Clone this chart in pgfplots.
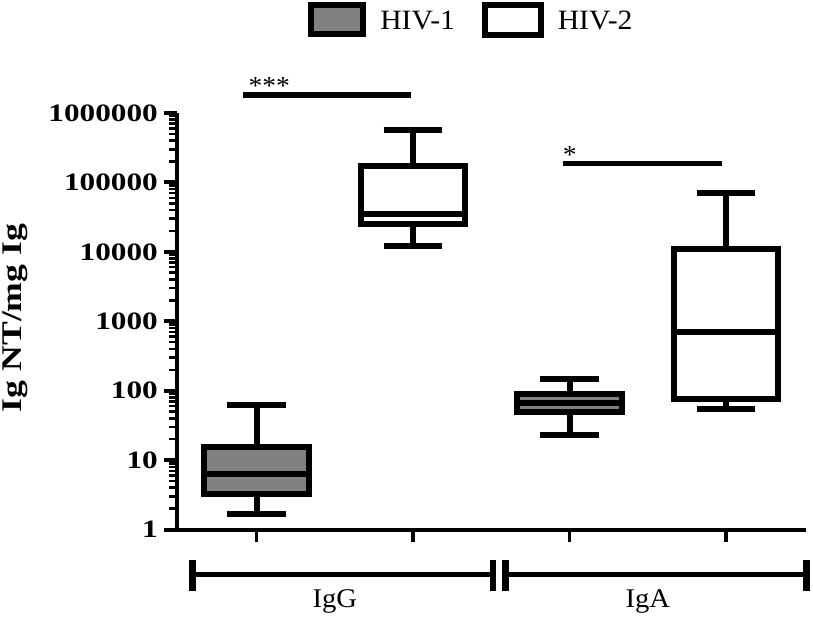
\documentclass[border=0pt]{standalone}
\usepackage{fontspec}
\setmainfont{Liberation Serif}[FakeStretch=1.06]
\newfontfamily\bstretch{Liberation Serif}[FakeStretch=1.25]
\usepackage{pgfplots}
\pgfplotsset{compat=1.18}
\definecolor{hivgray}{RGB}{128,128,128}

\begin{document}
\begin{tikzpicture}
\path[use as bounding box] (-177pt,-88.5pt) rectangle (636pt,529.5pt);
\begin{axis}[
  scale only axis, width=629pt, height=416.5pt,
  xmin=0.492, xmax=4.511,
  ymode=log, ymin=1, ymax=1000000,
  axis lines=left,
  x axis line style={-, line width=4pt},
  y axis line style={-, line width=4.5pt},
  xtick={1,2,3,4}, xticklabels={},
  ytick={1,10,100,1000,10000,100000,1000000},
  yticklabels={1,10,100,1000,10000,100000,1000000},
  tick align=outside,
  major tick length=13pt, minor tick length=8pt,
  major x tick style={line width=3.5pt, black},
  major y tick style={line width=4pt, black},
  minor y tick style={line width=2.5pt, black},
  yticklabel style={font=\bstretch\bfseries\fontsize{25}{25}\selectfont, inner sep=0pt, xshift=-6pt},
  ylabel={Ig NT/mg Ig},
  ylabel style={font=\bstretch\bfseries\fontsize{28.5}{28.5}\selectfont, at={(axis description cs:-0.2469,0.5078)}, anchor=base},
  clip=false,
  cycle list={{black}},
  legend columns=2,
  legend style={at={(axis description cs:0.2083,1.2676)}, anchor=north west,
    draw=none, fill=none, inner sep=0pt, outer sep=0pt,
    font=\fontsize{28}{28}\selectfont,
    nodes={inner sep=0pt},
    /tikz/every odd column/.append style={column sep=14pt},
    /tikz/every even column/.append style={column sep=27pt}},
  every axis plot/.append style={black, line width=6pt, no marks, forget plot},
]
% ---------- IgG, HIV-1 (pos 1): lw 1.69, q1 3.2, med 6.4, q3 15.3, uw 62.9
\addplot coordinates {(1,15.3) (1,62.9)};
\addplot coordinates {(1,3.2) (1,1.69)};
\addplot coordinates {(0.8125,62.9) (1.1875,62.9)};
\addplot coordinates {(0.8125,1.69) (1.1875,1.69)};
\addplot[fill=hivgray] coordinates {(0.6675,3.2) (1.3325,3.2) (1.3325,15.3) (0.6675,15.3)} -- cycle;
\addplot coordinates {(0.6675,6.4) (1.3325,6.4)};
% ---------- IgG, HIV-2 (pos 2): lw 12200, q1 25100, med 34900, q3 171000, uw 571000
\addplot coordinates {(2,171000) (2,571000)};
\addplot coordinates {(2,25100) (2,12200)};
\addplot coordinates {(1.8125,571000) (2.1875,571000)};
\addplot coordinates {(1.8125,12200) (2.1875,12200)};
\addplot[fill=white] coordinates {(1.6675,25100) (2.3325,25100) (2.3325,171000) (1.6675,171000)} -- cycle;
\addplot coordinates {(1.6675,34900) (2.3325,34900)};
% ---------- IgA, HIV-1 (pos 3): lw 22.8, q1 49.8, med 67.2, q3 90.5, uw 147.5
\addplot coordinates {(3,90.5) (3,147.5)};
\addplot coordinates {(3,49.8) (3,22.8)};
\addplot coordinates {(2.8125,147.5) (3.1875,147.5)};
\addplot coordinates {(2.8125,22.8) (3.1875,22.8)};
\addplot[fill=hivgray] coordinates {(2.6675,49.8) (3.3325,49.8) (3.3325,90.5) (2.6675,90.5)} -- cycle;
\addplot coordinates {(2.6675,67.2) (3.3325,67.2)};
% ---------- IgA, HIV-2 (pos 4): lw 53.6, q1 74.7, med 690, q3 11100, uw 70600
\addplot coordinates {(4,11100) (4,70600)};
\addplot coordinates {(4,74.7) (4,53.6)};
\addplot coordinates {(3.8125,70600) (4.1875,70600)};
\addplot coordinates {(3.8125,53.6) (4.1875,53.6)};
\addplot[fill=white] coordinates {(3.6675,74.7) (4.3325,74.7) (4.3325,11100) (3.6675,11100)} -- cycle;
\addplot coordinates {(3.6675,690) (4.3325,690)};
% significance bars
\addplot[line width=5.3pt] coordinates {(0.916,1820000) (1.985,1820000)};
\addplot[line width=5.3pt] coordinates {(2.957,189000) (3.975,189000)};
\node[anchor=base west, inner sep=0pt, font=\fontsize{26}{26}\selectfont] at ([xshift=5pt]axis cs:0.916,1820000) {***};
\node[anchor=base west, inner sep=0pt, font=\fontsize{26}{26}\selectfont] at (axis cs:2.957,189000) {*};
% group brackets
\draw[line width=5pt] ([yshift=-45pt]axis cs:0.591,1) -- ([yshift=-45pt]axis cs:2.511,1);
\draw[line width=5pt] ([yshift=-45pt]axis cs:2.591,1) -- ([yshift=-45pt]axis cs:4.514,1);
\draw[line width=6.5pt] ([yshift=-30.5pt]axis cs:0.591,1) -- ([yshift=-61.5pt]axis cs:0.591,1);
\draw[line width=6.5pt] ([yshift=-30.5pt]axis cs:2.511,1) -- ([yshift=-61.5pt]axis cs:2.511,1);
\draw[line width=6.5pt] ([yshift=-30.5pt]axis cs:2.591,1) -- ([yshift=-61.5pt]axis cs:2.591,1);
\draw[line width=6.5pt] ([yshift=-30.5pt]axis cs:4.514,1) -- ([yshift=-61.5pt]axis cs:4.514,1);
\node[anchor=base, inner sep=0pt, font=\fontsize{27}{27}\selectfont] at ([yshift=-77.5pt]axis cs:1.5,1) {IgG};
\node[anchor=base, inner sep=0pt, font=\fontsize{27}{27}\selectfont] at ([yshift=-77.5pt]axis cs:3.5,1) {IgA};
% legend
\addlegendimage{legend image code/.code={\draw[fill=hivgray, line width=6pt] (0pt,-13pt) rectangle (52.3pt,16.6pt);}}
\addlegendentry{HIV-1}
\addlegendimage{legend image code/.code={\draw[fill=white, line width=6pt] (0pt,-14pt) rectangle (55.7pt,16pt);}}
\addlegendentry{HIV-2}
\end{axis}
\end{tikzpicture}
\end{document}
